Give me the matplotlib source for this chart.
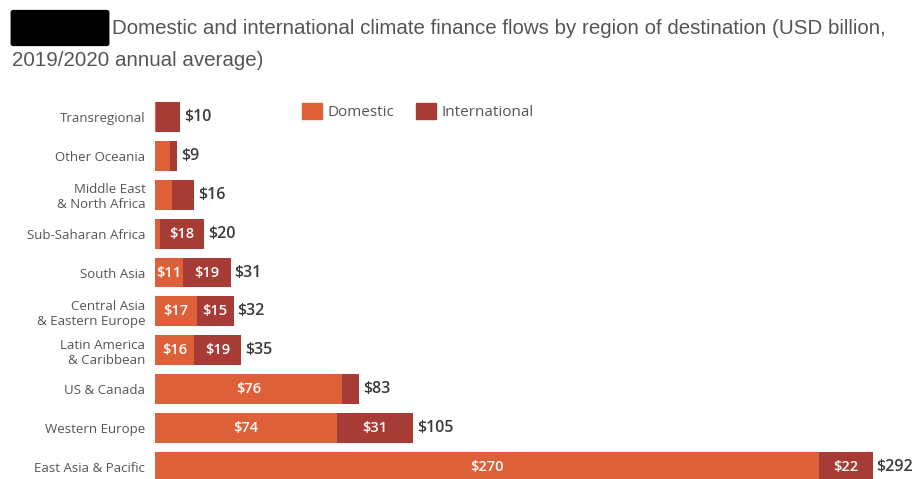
import matplotlib

matplotlib.use("Agg")

import matplotlib.pyplot as plt
from matplotlib.patches import FancyBboxPatch, Patch

regions = [
    "Transregional",
    "Other Oceania",
    "Middle East\n& North Africa",
    "Sub-Saharan Africa",
    "South Asia",
    "Central Asia\n& Eastern Europe",
    "Latin America\n& Caribbean",
    "US & Canada",
    "Western Europe",
    "East Asia & Pacific",
]
domestic = [0.3, 6, 7, 2, 11.4, 17, 16, 76, 74, 270]
international = [10, 3, 9, 18, 19.4, 15, 19, 7, 31, 22]
totals = [10, 9, 16, 20, 31, 32, 35, 83, 105, 292]

DOM_COLOR = "#DE6039"
INT_COLOR = "#A63C35"
LABEL_MIN = 11

plt.rcParams["font.family"] = ["Open Sans", "DejaVu Sans"]

fig = plt.figure(figsize=(9.17, 4.79), dpi=100)
ax = fig.add_axes([155 / 917, 0.0, 762 / 917, (479 - 97.5) / 479])

ypos = list(range(len(regions)))
ax.barh(ypos, domestic, height=0.77, color=DOM_COLOR, label="Domestic")
ax.barh(ypos, international, left=domestic, height=0.77, color=INT_COLOR,
        label="International")

for y, d, i, t in zip(ypos, domestic, international, totals):
    if d >= LABEL_MIN:
        ax.text(d / 2, y, f"${d:.0f}", ha="center", va="center",
                color="white", fontsize=10.5, fontweight="semibold")
    if i >= LABEL_MIN:
        ax.text(d + i / 2, y, f"${i:.0f}", ha="center", va="center",
                color="white", fontsize=10.5, fontweight="semibold")
    ax.text(d + i + 1.5, y, f"${t}", ha="left", va="center",
            color="#3a3a3a", fontsize=11.5, fontweight="semibold")

ax.set_xlim(0, 310)
ax.set_ylim(9.31, -0.5)
ax.set_yticks(ypos, regions, fontsize=9.5, color="#555555")
ax.tick_params(axis="y", length=0, pad=7)
ax.set_xticks([])
for side in ax.spines.values():
    side.set_visible(False)

handles = [Patch(color=DOM_COLOR, label="Domestic"),
           Patch(color=INT_COLOR, label="International")]
fig.legend(handles=handles, loc="upper left", bbox_to_anchor=(288 / 917, 1 - 89 / 479),
           ncol=2, frameon=False, fontsize=11, handlelength=1.3, handleheight=1.3,
           handletextpad=0.4, columnspacing=1.4, labelcolor="#555555")

# redacted block in front of the title
fig.patches.append(FancyBboxPatch((14 / 917, 1 - 44 / 479), 92 / 917, 32 / 479,
                                  boxstyle="round,pad=0.003", color="black",
                                  transform=fig.transFigure, figure=fig))

title_font = ["Liberation Sans", "DejaVu Sans"]
fig.text(112 / 917, 1 - 28 / 479,
         "Domestic and international climate finance flows by region of destination (USD billion,",
         ha="left", va="center", fontsize=14.8, color="#555555", family=title_font)
fig.text(12 / 917, 1 - 61 / 479, "2019/2020 annual average)",
         ha="left", va="center", fontsize=14.8, color="#555555", family=title_font)

fig.savefig("out.png", dpi=100)
